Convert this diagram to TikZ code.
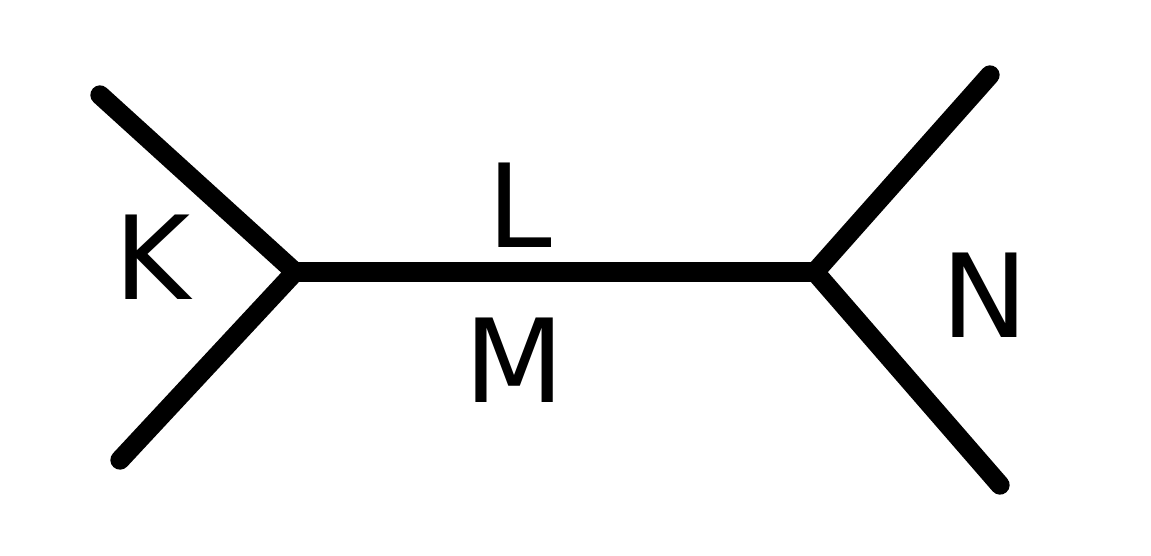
\documentclass[tikz,border=0pt]{standalone}
\usepackage{fontspec}
\setmainfont{DejaVu Sans}
\begin{document}
\begin{tikzpicture}[line width=11pt,line cap=round,color=black,
  edge/.style={draw},
  lbl/.style={font=\fontsize{66}{70}\selectfont,inner sep=0pt}]
		\useasboundingbox (0,0) rectangle (23.02,11.1);
		\coordinate (vl) at (5.9,5.66);
		\coordinate (vr) at (16.3,5.66);
		\coordinate (lt) at (2.0,9.2);
		\coordinate (lb) at (2.4,1.9);
		\coordinate (rt) at (19.8,9.6);
		\coordinate (rb) at (20.0,1.4);
		\draw[edge] (lt)--(vl)--(lb);
		\draw[edge] (rt)--(vr)--(rb);
		\draw[edge] (vl)--(vr);
		\node[lbl] (k) at (3.05,5.95) {K};
		\node[lbl] (l) at (10.4,7.0) {L};
		\node[lbl] (m) at (10.3,3.9) {M};
		\node[lbl] (n) at (19.7,5.2) {N};
\end{tikzpicture}
\end{document}
